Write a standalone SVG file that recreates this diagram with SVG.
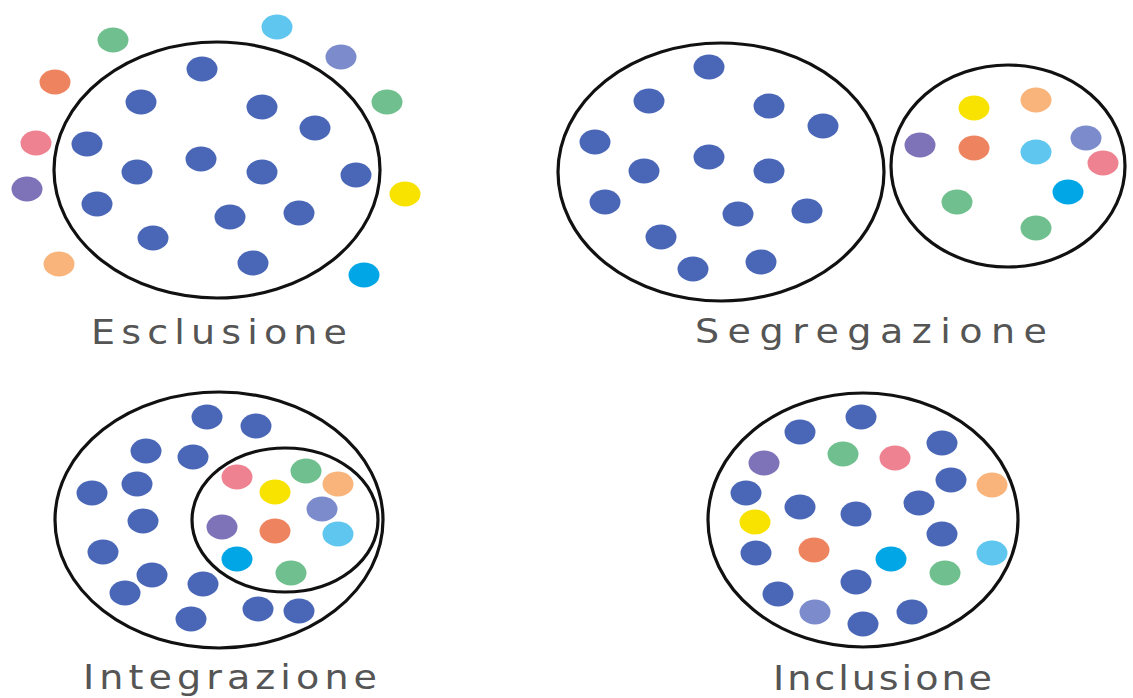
<svg xmlns="http://www.w3.org/2000/svg" xmlns:xlink="http://www.w3.org/1999/xlink" width="1133" height="698" viewBox="0 0 1133 698">
<defs>
<ellipse id="dot" cx="0" cy="0" rx="15.5" ry="12.5"/>
<style>
.ring{fill:none;stroke:#111;stroke-width:3.2}
.lbl{font-family:"DejaVu Sans","Liberation Sans",sans-serif;font-size:34px;fill:#555555}
.b{fill:#4a67b7}
.g{fill:#70bf8e}
.c{fill:#5ec6ef}
.l{fill:#7b8bcb}
.o{fill:#ee845f}
.p{fill:#ee8290}
.v{fill:#7e73b8}
.y{fill:#f8e300}
.k{fill:#f8b47a}
.a{fill:#00a6e6}
</style>
</defs>
<rect width="1133" height="698" fill="#ffffff"/>

<g id="esclusione">
<ellipse class="ring" cx="217" cy="170" rx="163" ry="128"/>
<use xlink:href="#dot" x="202" y="69" class="b"/>
<use xlink:href="#dot" x="141" y="102" class="b"/>
<use xlink:href="#dot" x="262" y="107" class="b"/>
<use xlink:href="#dot" x="315" y="128" class="b"/>
<use xlink:href="#dot" x="87" y="144" class="b"/>
<use xlink:href="#dot" x="201" y="159" class="b"/>
<use xlink:href="#dot" x="137" y="172" class="b"/>
<use xlink:href="#dot" x="262" y="172" class="b"/>
<use xlink:href="#dot" x="356" y="175" class="b"/>
<use xlink:href="#dot" x="97" y="204" class="b"/>
<use xlink:href="#dot" x="230" y="217" class="b"/>
<use xlink:href="#dot" x="299" y="213" class="b"/>
<use xlink:href="#dot" x="153" y="238" class="b"/>
<use xlink:href="#dot" x="253" y="263" class="b"/>
<use xlink:href="#dot" x="113" y="40" class="g"/>
<use xlink:href="#dot" x="277" y="27" class="c"/>
<use xlink:href="#dot" x="341" y="57" class="l"/>
<use xlink:href="#dot" x="55" y="82" class="o"/>
<use xlink:href="#dot" x="387" y="102" class="g"/>
<use xlink:href="#dot" x="36" y="143" class="p"/>
<use xlink:href="#dot" x="27" y="189" class="v"/>
<use xlink:href="#dot" x="405" y="194" class="y"/>
<use xlink:href="#dot" x="59" y="264" class="k"/>
<use xlink:href="#dot" x="364" y="275" class="a"/>
<text class="lbl" transform="translate(91,344) scale(1.12,1)" x="0" y="0" textLength="228.6" lengthAdjust="spacing">Esclusione</text>
</g>

<g id="segregazione">
<ellipse class="ring" cx="721" cy="172" rx="163" ry="129"/>
<use xlink:href="#dot" x="709" y="67" class="b"/>
<use xlink:href="#dot" x="649" y="101" class="b"/>
<use xlink:href="#dot" x="769" y="106" class="b"/>
<use xlink:href="#dot" x="823" y="126" class="b"/>
<use xlink:href="#dot" x="595" y="142" class="b"/>
<use xlink:href="#dot" x="709" y="157" class="b"/>
<use xlink:href="#dot" x="644" y="171" class="b"/>
<use xlink:href="#dot" x="769" y="171" class="b"/>
<use xlink:href="#dot" x="605" y="202" class="b"/>
<use xlink:href="#dot" x="738" y="214" class="b"/>
<use xlink:href="#dot" x="807" y="211" class="b"/>
<use xlink:href="#dot" x="661" y="237" class="b"/>
<use xlink:href="#dot" x="693" y="269" class="b"/>
<use xlink:href="#dot" x="761" y="262" class="b"/>
<ellipse class="ring" cx="1008" cy="166" rx="117" ry="101"/>
<use xlink:href="#dot" x="920" y="145" class="v"/>
<use xlink:href="#dot" x="974" y="108" class="y"/>
<use xlink:href="#dot" x="974" y="148" class="o"/>
<use xlink:href="#dot" x="1036" y="100" class="k"/>
<use xlink:href="#dot" x="1036" y="152" class="c"/>
<use xlink:href="#dot" x="1086" y="138" class="l"/>
<use xlink:href="#dot" x="1103" y="163" class="p"/>
<use xlink:href="#dot" x="1068" y="192" class="a"/>
<use xlink:href="#dot" x="957" y="202" class="g"/>
<use xlink:href="#dot" x="1036" y="228" class="g"/>
<text class="lbl" transform="translate(695,343) scale(1.12,1)" x="0" y="0" textLength="314.3" lengthAdjust="spacing">Segregazione</text>
</g>

<g id="integrazione">
<ellipse class="ring" cx="219" cy="520" rx="164" ry="128"/>
<use xlink:href="#dot" x="207" y="417" class="b"/>
<use xlink:href="#dot" x="256" y="426" class="b"/>
<use xlink:href="#dot" x="146" y="451" class="b"/>
<use xlink:href="#dot" x="193" y="457" class="b"/>
<use xlink:href="#dot" x="92" y="493" class="b"/>
<use xlink:href="#dot" x="137" y="484" class="b"/>
<use xlink:href="#dot" x="143" y="521" class="b"/>
<use xlink:href="#dot" x="103" y="552" class="b"/>
<use xlink:href="#dot" x="152" y="575" class="b"/>
<use xlink:href="#dot" x="125" y="593" class="b"/>
<use xlink:href="#dot" x="203" y="584" class="b"/>
<use xlink:href="#dot" x="191" y="619" class="b"/>
<use xlink:href="#dot" x="258" y="609" class="b"/>
<use xlink:href="#dot" x="299" y="611" class="b"/>
<ellipse class="ring" cx="285" cy="520" rx="93" ry="72"/>
<use xlink:href="#dot" x="237" y="477" class="p"/>
<use xlink:href="#dot" x="306" y="471" class="g"/>
<use xlink:href="#dot" x="338" y="484" class="k"/>
<use xlink:href="#dot" x="275" y="492" class="y"/>
<use xlink:href="#dot" x="322" y="509" class="l"/>
<use xlink:href="#dot" x="222" y="527" class="v"/>
<use xlink:href="#dot" x="275" y="531" class="o"/>
<use xlink:href="#dot" x="338" y="534" class="c"/>
<use xlink:href="#dot" x="237" y="559" class="a"/>
<use xlink:href="#dot" x="291" y="573" class="g"/>
<text class="lbl" transform="translate(83,689) scale(1.12,1)" x="0" y="0" textLength="262.5" lengthAdjust="spacing">Integrazione</text>
</g>

<g id="inclusione">
<ellipse class="ring" cx="863" cy="520" rx="155" ry="127"/>
<use xlink:href="#dot" x="861" y="417" class="b"/>
<use xlink:href="#dot" x="800" y="432" class="b"/>
<use xlink:href="#dot" x="942" y="443" class="b"/>
<use xlink:href="#dot" x="843" y="454" class="g"/>
<use xlink:href="#dot" x="895" y="458" class="p"/>
<use xlink:href="#dot" x="764" y="463" class="v"/>
<use xlink:href="#dot" x="951" y="480" class="b"/>
<use xlink:href="#dot" x="992" y="485" class="k"/>
<use xlink:href="#dot" x="746" y="493" class="b"/>
<use xlink:href="#dot" x="800" y="507" class="b"/>
<use xlink:href="#dot" x="856" y="514" class="b"/>
<use xlink:href="#dot" x="919" y="503" class="b"/>
<use xlink:href="#dot" x="755" y="522" class="y"/>
<use xlink:href="#dot" x="942" y="534" class="b"/>
<use xlink:href="#dot" x="756" y="553" class="b"/>
<use xlink:href="#dot" x="814" y="550" class="o"/>
<use xlink:href="#dot" x="891" y="559" class="a"/>
<use xlink:href="#dot" x="992" y="553" class="c"/>
<use xlink:href="#dot" x="945" y="573" class="g"/>
<use xlink:href="#dot" x="856" y="582" class="b"/>
<use xlink:href="#dot" x="778" y="594" class="b"/>
<use xlink:href="#dot" x="815" y="612" class="l"/>
<use xlink:href="#dot" x="863" y="624" class="b"/>
<use xlink:href="#dot" x="912" y="612" class="b"/>
<text class="lbl" transform="translate(773,690) scale(1.12,1)" x="0" y="0" textLength="195.5" lengthAdjust="spacing">Inclusione</text>
</g>

<g id="connectors"></g>
</svg>
